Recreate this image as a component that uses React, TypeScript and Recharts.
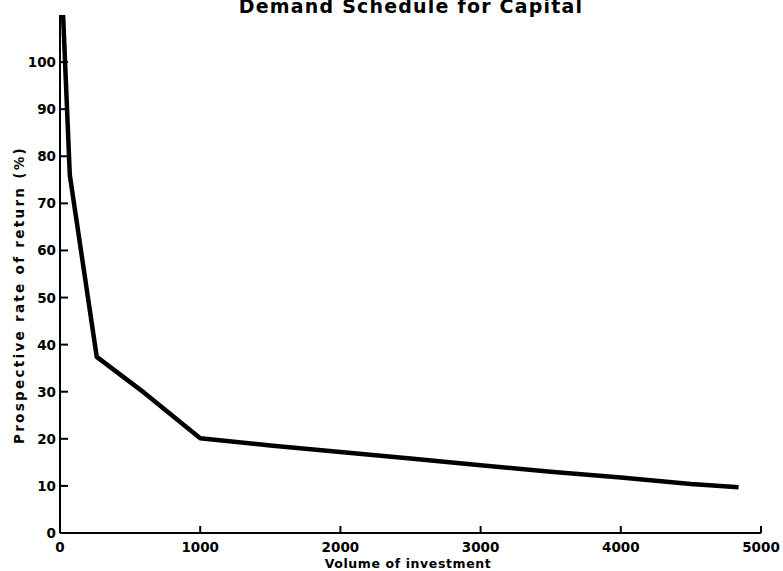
import { LineChart, Line, XAxis, YAxis } from 'recharts';

const volume = [22, 70, 262, 600, 1000, 1500, 2000, 2500, 3000, 3500, 4000, 4500, 4840];
const rate = [110, 76, 37.4, 29.8, 20.1, 18.6, 17.2, 15.8, 14.4, 13.0, 11.8, 10.4, 9.7];
const xTicks = [0, 1000, 2000, 3000, 4000, 5000];
const yTicks = [0, 10, 20, 30, 40, 50, 60, 70, 80, 90, 100];

const data = volume.map((v, i) => ({ volume: v, rate: rate[i] }));

const font = '"DejaVu Sans", sans-serif';

const XTick = ({ x, y, payload }: any) => (
  <g>
    {payload.value !== 0 && (
      <line x1={x} x2={x} y1={y} y2={y - 7} stroke="#000" strokeWidth={2} />
    )}
    <text x={x} y={y + 19} textAnchor="middle" fontFamily={font} fontWeight="bold" fontSize={13.5} fill="#000">
      {payload.value}
    </text>
  </g>
);

const YTick = ({ x, y, payload }: any) => (
  <g>
    {payload.value !== 0 && (
      <line x1={x + 4} x2={x + 12} y1={y} y2={y} stroke="#000" strokeWidth={2} />
    )}
    <text x={x} y={y + 5} textAnchor="end" fontFamily={font} fontWeight="bold" fontSize={13.5} fill="#000">
      {payload.value}
    </text>
  </g>
);

const YLabel = () => (
  <text
    x={19}
    y={295}
    transform="rotate(-90 19 295)"
    textAnchor="middle"
    dominantBaseline="central"
    fontFamily={font}
    fontWeight="bold"
    fontSize={13.5}
    letterSpacing={2.3}
    fill="#000"
  >
    Prospective rate of return (%)
  </text>
);

const XLabel = () => (
  <text
    x={408}
    y={568}
    textAnchor="middle"
    fontFamily={font}
    fontWeight="bold"
    fontSize={12.5}
    letterSpacing={0.6}
    fill="#000"
  >
    Volume of investment
  </text>
);

export default function App() {
  return (
    <div style={{ position: 'absolute', left: 0, top: 0, width: 783, height: 571, background: '#fff', overflow: 'hidden' }}>
      <div
        style={{
          position: 'absolute',
          top: -3,
          left: 161,
          width: 500,
          textAlign: 'center',
          fontFamily: font,
          fontWeight: 'bold',
          fontSize: 19,
          letterSpacing: 1.2,
          lineHeight: '19px',
          color: '#000',
        }}
      >
        Demand Schedule for Capital
      </div>
      <LineChart width={783} height={571} data={data} margin={{ top: 15, right: 22, bottom: 0, left: 0 }}>
        <XAxis
          dataKey="volume"
          type="number"
          domain={[0, 5000]}
          ticks={xTicks}
          height={38}
          tickSize={0}
          tickMargin={0}
          tickLine={false}
          axisLine={{ stroke: '#000', strokeWidth: 2 }}
          tick={<XTick />}
          interval={0}
          label={<XLabel />}
        />
        <YAxis
          dataKey="rate"
          type="number"
          domain={[0, 110]}
          ticks={yTicks}
          width={60}
          tickSize={0}
          tickMargin={4}
          tickLine={false}
          axisLine={{ stroke: '#000', strokeWidth: 2 }}
          tick={<YTick />}
          interval={0}
          label={<YLabel />}
        />
        <Line
          dataKey="rate"
          type="linear"
          stroke="#000"
          strokeWidth={4.5}
          strokeLinejoin="round"
          dot={false}
          isAnimationActive={false}
        />
      </LineChart>
    </div>
  );
}
